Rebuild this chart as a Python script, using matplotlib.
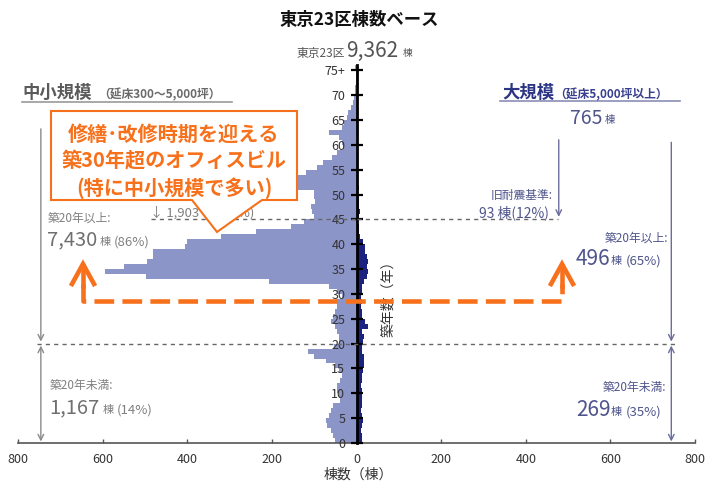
import numpy as np
import matplotlib.pyplot as plt
from matplotlib.patches import Polygon
from matplotlib.lines import Line2D

plt.rcParams['font.family'] = ['Noto Sans CJK JP', 'DejaVu Sans']

# 築年数 0..75 (75 = 75年以上)
ages = np.arange(0, 76)

# 中小規模 (延床300~5,000坪) 棟数
small_counts = [50, 55, 60, 70, 72, 66, 60, 55, 40, 42,
                45, 45, 38, 35, 42, 50, 73, 100, 115, 54,
                42, 42, 45, 50, 60, 55, 50, 45, 45, 35,
                45, 66, 207, 497, 595, 550, 495, 482, 480, 405,
                400, 320, 238, 155, 125, 100, 105, 108, 97, 100,
                101, 180, 200, 190, 120, 94, 80, 59, 45, 31,
                35, 42, 66, 35, 30, 23, 20, 12, 8, 5,
                4, 3, 2, 2, 2, 3]

# 大規模 (延床5,000坪以上) 棟数
large_counts = [12, 14, 10, 13, 15, 12, 11, 13, 12, 14,
                13, 11, 12, 14, 15, 18, 17, 17, 14, 12,
                15, 17, 14, 27, 20, 13, 12, 11, 12, 10,
                12, 13, 18, 25, 28, 24, 28, 24, 20, 20,
                16, 9, 6, 5, 4, 7, 8, 7, 6, 6,
                4, 5, 4, 3, 4, 3, 4, 3, 3, 3,
                3, 3, 3, 2, 3, 2, 2, 1, 1, 1,
                1, 0, 0, 0, 0, 1]

ytick_vals = list(range(0, 76, 5))
ytick_labels = [str(v) for v in ytick_vals[:-1]] + ['75+']
xtick_vals = [-800, -600, -400, -200, 0, 200, 400, 600, 800]
xtick_labels = [str(abs(v)) for v in xtick_vals]

light = '#8c95c8'
dark = '#1c2280'
gray_txt = '#808080'
navy_txt = '#4f558c'
orange = '#f7711c'

W, H = 707, 483
def fx(px):
    return px / W
def fy(py):
    return 1 - py / H

fig = plt.figure(figsize=(7.07, 4.83), dpi=100)
ax = fig.add_axes([fx(18), fy(443), (695 - 18) / W, (443 - 60) / H])

ax.barh(ages, [-v for v in small_counts], height=1, align='edge', color=light, zorder=1)
ax.barh(ages, large_counts, height=1, align='edge', color=dark, zorder=1.5)

ax.set_xlim(-800, 800)
ax.set_ylim(0, (443 - 60) / 4.97)
ax.set_axisbelow(False)
ax.yaxis.set_zorder(4)

for s in ['top', 'right']:
    ax.spines[s].set_visible(False)
ax.spines['left'].set_position(('data', 0))
ax.spines['left'].set_linewidth(2)
ax.spines['left'].set_bounds(0, 76)
ax.spines['left'].set_zorder(4)
ax.spines['bottom'].set_color('#555555')
ax.spines['bottom'].set_linewidth(1.2)

ax.set_yticks(ytick_vals)
ax.set_yticklabels(ytick_labels)
ax.tick_params(axis='y', direction='inout', length=8, width=1.6, pad=4,
               labelsize=9, labelcolor='#333333')
ax.set_xticks(xtick_vals)
ax.set_xticklabels(xtick_labels)
ax.tick_params(axis='x', direction='in', length=3, width=1, color='#555555',
               pad=7, labelsize=9, labelcolor='#333333')

# dotted reference lines
ax.plot([-756, 760], [20, 20], ls=(0, (3, 3)), color='#666666', lw=1, zorder=5)
ax.plot([-485, 0], [45, 45], ls=(0, (3, 3)), color='#666666', lw=1, zorder=5)
ax.plot([0, 477], [45, 45], ls=(0, (3, 3)), color='#666666', lw=1, zorder=5)

# vertical arrows
arr_gray = dict(arrowstyle='->', color='#8a8a8a', lw=1, shrinkA=0, shrinkB=0)
ax.annotate('', xy=(-746, 20.4), xytext=(-746, 63.2), arrowprops=arr_gray)
ax.annotate('', xy=(-746, 0.3), xytext=(-746, 19.6),
            arrowprops=dict(arr_gray, arrowstyle='<->'))
arr_navy = dict(arrowstyle='->', color='#6a6e9c', lw=1, shrinkA=0, shrinkB=0)
ax.annotate('', xy=(744, 20.4), xytext=(744, 60.5), arrowprops=arr_navy)
ax.annotate('', xy=(744, 0.3), xytext=(744, 19.6),
            arrowprops=dict(arr_navy, arrowstyle='<->'))
ax.annotate('', xy=(478, 45.5), xytext=(478, 61), arrowprops=arr_navy)

# title and totals
fig.text(fx(359), fy(20), '東京23区棟数ベース', ha='center', va='center',
         fontsize=12.5, fontweight='bold', color='#111111')
fig.text(fx(345), fy(53), '東京23区', ha='right', va='center', fontsize=8.5, color='#555555')
fig.text(fx(346), fy(51), '9,362', ha='left', va='center', fontsize=15, color='#555555')
fig.text(fx(403), fy(53), '棟', ha='left', va='center', fontsize=7, color='#555555')

# headers
fig.text(fx(22), fy(93), '中小規模', ha='left', va='center', fontsize=12.5,
         fontweight='bold', color='#5a5a5a')
fig.text(fx(98), fy(95), '（延床300～5,000坪）', ha='left', va='center', fontsize=8.5,
         fontweight='bold', color='#6a6a6a')
fig.add_artist(Line2D([fx(22), fx(232)], [fy(102), fy(102)], color='#999999', lw=1.2))

fig.text(fx(502), fy(93), '大規模', ha='left', va='center', fontsize=12.5,
         fontweight='bold', color='#2c3484')
fig.text(fx(554), fy(95), '（延床5,000坪以上）', ha='left', va='center', fontsize=8.5,
         fontweight='bold', color='#3a4090')
fig.add_artist(Line2D([fx(500), fx(680)], [fy(101), fy(101)], color='#8a8eb4', lw=1.2))
fig.text(fx(570), fy(118), '765', ha='left', va='center', fontsize=14, color=navy_txt)
fig.text(fx(605), fy(120), '棟', ha='left', va='center', fontsize=7.5, color=navy_txt)

# left labels
fig.text(fx(150), fy(213), '↓ 1,903 棟 (22%)', ha='left', va='center', fontsize=9.5, color=gray_txt)
fig.text(fx(48), fy(218), '築20年以上:', ha='left', va='center', fontsize=8.5, color=gray_txt)
fig.text(fx(47), fy(240), '7,430', ha='left', va='center', fontsize=14.5, color='#707070')
fig.text(fx(100), fy(242), '棟', ha='left', va='center', fontsize=8, color=gray_txt)
fig.text(fx(114), fy(242), '(86%)', ha='left', va='center', fontsize=9.5, color=gray_txt)
fig.text(fx(50), fy(386), '築20年未満:', ha='left', va='center', fontsize=8.5, color=gray_txt)
fig.text(fx(49), fy(408), '1,167', ha='left', va='center', fontsize=14.5, color='#707070')
fig.text(fx(103), fy(410), '棟', ha='left', va='center', fontsize=8, color=gray_txt)
fig.text(fx(117), fy(410), '(14%)', ha='left', va='center', fontsize=9.5, color=gray_txt)

# right labels
fig.text(fx(553), fy(195), '旧耐震基準:', ha='right', va='center', fontsize=8.5, color=navy_txt)
fig.text(fx(549), fy(213), '93 棟(12%)', ha='right', va='center', fontsize=10, color=navy_txt)
fig.text(fx(668), fy(238), '築20年以上:', ha='right', va='center', fontsize=8.5, color=navy_txt)
fig.text(fx(576), fy(259), '496', ha='left', va='center', fontsize=15, color=navy_txt)
fig.text(fx(611), fy(261), '棟', ha='left', va='center', fontsize=8, color=navy_txt)
fig.text(fx(626), fy(261), '(65%)', ha='left', va='center', fontsize=9.5, color=navy_txt)
fig.text(fx(666), fy(388), '築20年未満:', ha='right', va='center', fontsize=8.5, color=navy_txt)
fig.text(fx(576), fy(410), '269', ha='left', va='center', fontsize=15, color=navy_txt)
fig.text(fx(611), fy(412), '棟', ha='left', va='center', fontsize=8, color=navy_txt)
fig.text(fx(626), fy(412), '(35%)', ha='left', va='center', fontsize=9.5, color=navy_txt)

# axis titles
fig.text(fx(388), fy(295), '築年数（年）', rotation=90, ha='center', va='center',
         fontsize=10, color='#333333', zorder=6)
fig.text(fx(358), fy(475), '棟数（棟）', ha='center', va='center', fontsize=10, color='#333333')

# callout box
pts = [(51, 111), (297, 111), (297, 200), (262, 200), (217, 232), (192, 200), (51, 200)]
callout = Polygon([(fx(x), fy(y)) for x, y in pts], closed=True, facecolor='white',
                  edgecolor=orange, lw=1.5, transform=fig.transFigure, zorder=7)
fig.add_artist(callout)
for txt, yy in [('修繕･改修時期を迎える', 134), ('築30年超のオフィスビル', 161),
                ('(特に中小規模で多い)', 188)]:
    fig.text(fx(174), fy(yy), txt, ha='center', va='center', fontsize=14.5,
             fontweight='bold', color=orange, zorder=8)

# orange dashed bracket arrow
fig.add_artist(Line2D([fx(83), fx(83), fx(562), fx(562)], [fy(284), fy(301), fy(301), fy(284)],
                      color=orange, lw=3.3, ls=(0, (4.3, 1.8)), solid_capstyle='butt',
                      transform=fig.transFigure, zorder=7))
for cx in [83, 562]:
    fig.add_artist(Line2D([fx(cx - 11), fx(cx), fx(cx + 11)], [fy(284), fy(264), fy(284)],
                          color=orange, lw=3.3, solid_joinstyle='miter',
                          transform=fig.transFigure, zorder=7))
    fig.add_artist(Line2D([fx(cx), fx(cx)], [fy(266), fy(286)], color=orange, lw=3.3,
                          transform=fig.transFigure, zorder=7))

fig.savefig('out.png', dpi=100)
